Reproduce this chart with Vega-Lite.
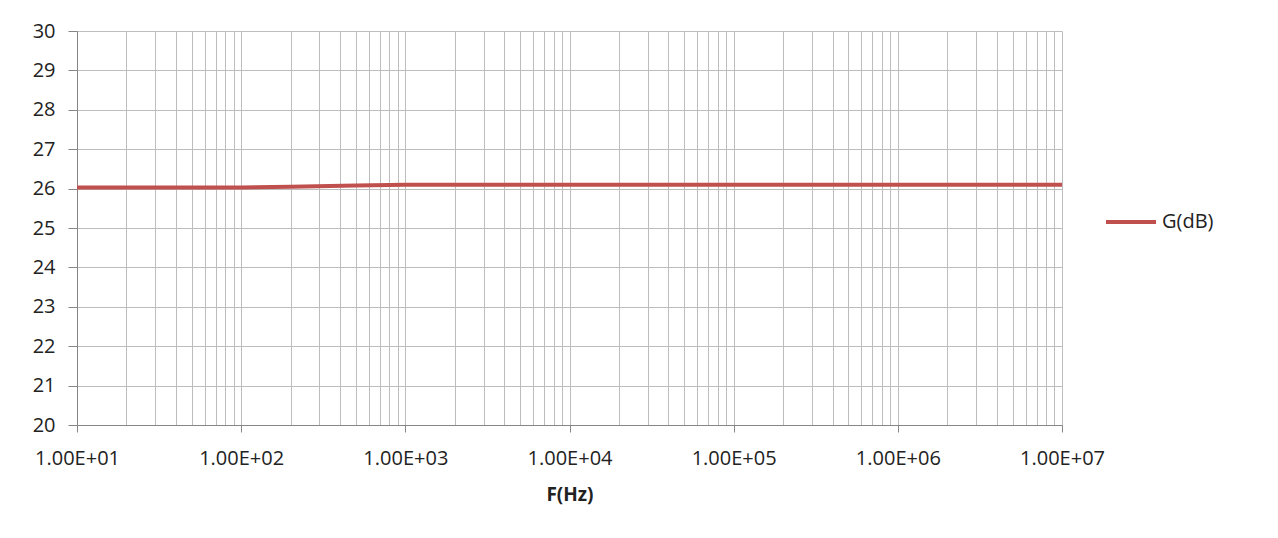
{
  "$schema": "https://vega.github.io/schema/vega-lite/v6.json",
  "width": 985,
  "height": 394,
  "autosize": {"type": "none"},
  "padding": {"left": 77, "top": 31, "right": 216, "bottom": 113},
  "background": "white",
  "config": {
    "view": {"stroke": null},
    "font": "Open Sans",
    "axis": {
      "labelFont": "Open Sans",
      "labelFontSize": 20,
      "labelColor": "#222222",
      "gridColor": "#bdbdbd",
      "gridWidth": 1,
      "domainColor": "#868686",
      "tickColor": "#868686",
      "titleFont": "Open Sans"
    }
  },
  "data": {
    "values": [
      {"F": 10, "G": 26.03, "series": "G(dB)"},
      {"F": 20, "G": 26.03, "series": "G(dB)"},
      {"F": 50, "G": 26.03, "series": "G(dB)"},
      {"F": 100, "G": 26.03, "series": "G(dB)"},
      {"F": 200, "G": 26.05, "series": "G(dB)"},
      {"F": 500, "G": 26.08, "series": "G(dB)"},
      {"F": 1000, "G": 26.1, "series": "G(dB)"},
      {"F": 10000, "G": 26.1, "series": "G(dB)"},
      {"F": 100000, "G": 26.1, "series": "G(dB)"},
      {"F": 1000000, "G": 26.1, "series": "G(dB)"},
      {"F": 10000000, "G": 26.1, "series": "G(dB)"}
    ]
  },
  "mark": {"type": "line", "strokeWidth": 4, "clip": true},
  "encoding": {
    "x": {
      "field": "F",
      "type": "quantitative",
      "scale": {"type": "log", "domain": [10, 10000000], "nice": false},
      "axis": {
        "title": "F(Hz)",
        "titleFontSize": 19,
        "titleFontWeight": "bold",
        "titleColor": "#222222",
        "titlePadding": 17,
        "values": [10,20,30,40,50,60,70,80,90,100,200,300,400,500,600,700,800,900,1000,2000,3000,4000,5000,6000,7000,8000,9000,10000,20000,30000,40000,50000,60000,70000,80000,90000,100000,200000,300000,400000,500000,600000,700000,800000,900000,1000000,2000000,3000000,4000000,5000000,6000000,7000000,8000000,9000000,10000000],
        "labelExpr": "abs(log(datum.value)/LN10 - round(log(datum.value)/LN10)) < 0.000001 ? '1.00E+' + (round(log(datum.value)/LN10) < 10 ? '0' : '') + round(log(datum.value)/LN10) : ''",
        "labelOverlap": false,
        "labelFlush": false,
        "labelPadding": 16,
        "tickSize": 7,
        "tickOpacity": {"condition": {"test": "abs(log(datum.value)/LN10 - round(log(datum.value)/LN10)) < 0.000001", "value": 1}, "value": 0},
        "grid": true
      }
    },
    "y": {
      "field": "G",
      "type": "quantitative",
      "scale": {"domain": [20, 30], "nice": false, "zero": false},
      "axis": {
        "title": null,
        "values": [20,21,22,23,24,25,26,27,28,29,30],
        "tickSize": 9,
        "labelPadding": 13,
        "labelFlush": false,
        "grid": true
      }
    },
    "color": {
      "field": "series",
      "type": "nominal",
      "scale": {"range": ["#c0504d"]},
      "legend": {
        "title": null,
        "orient": "none",
        "legendX": 1027,
        "legendY": 164,
        "symbolType": "stroke",
        "symbolSize": 2500,
        "symbolStrokeWidth": 4,
        "labelFont": "Open Sans",
        "labelFontSize": 20,
        "labelColor": "#222222",
        "labelOffset": 4
      }
    }
  }
}
